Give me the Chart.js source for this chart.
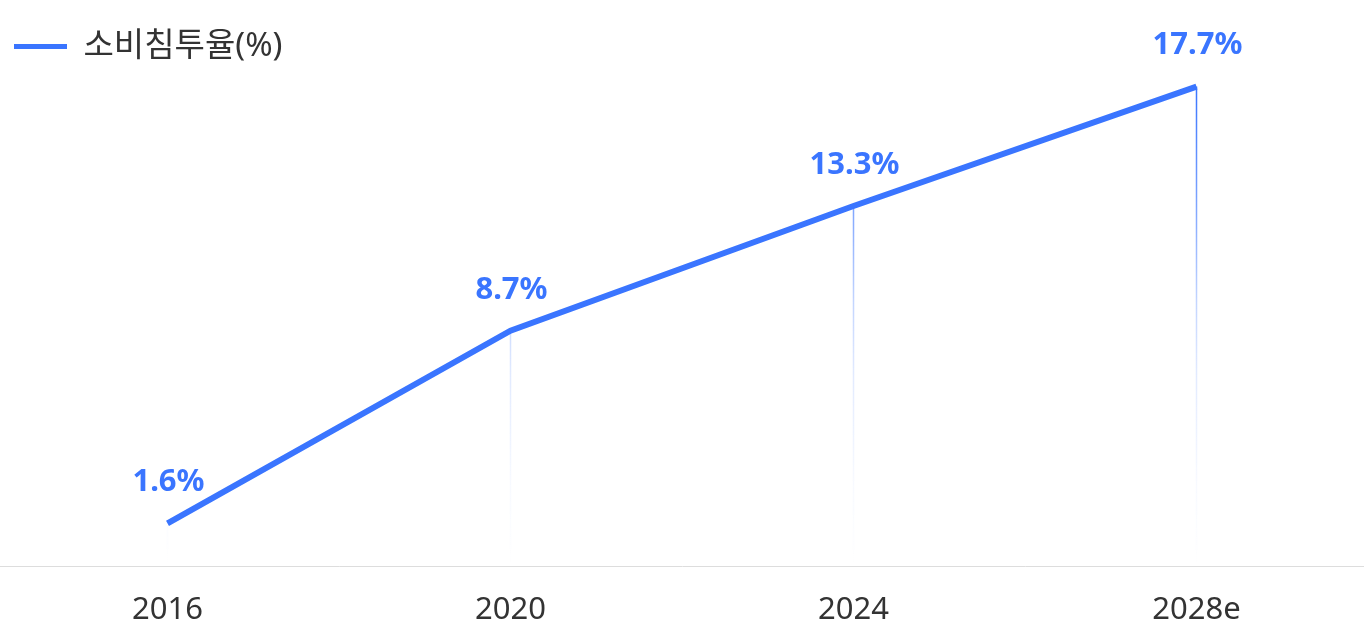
<!DOCTYPE html>
<html>
<head>
<meta charset="utf-8">
<script src="https://cdn.jsdelivr.net/npm/chart.js@4"></script>
<style>
  html, body { margin: 0; padding: 0; background: #fff; }
  #wrap { width: 1364px; height: 641px; overflow: hidden; position: relative; }
  #mainPlot { position: absolute; left: -4px; top: 0; }
</style>
</head>
<body>
<div id="wrap"><canvas id="mainPlot" width="1372" height="641"></canvas></div>
<script>
// chart data
const years = ["2016", "2020", "2024", "2028e"];
const penetration = [1.6, 8.7, 13.3, 17.7];
const seriesName = "소비침투율(%)";

const blue = "rgb(58, 117, 255)";
const fontFamily = "'Noto Sans', 'Noto Sans CJK KR', sans-serif";

// thin fading lines from each point down to the axis
const dropLines = {
  id: "dropLines",
  beforeDatasetsDraw(chart) {
    const ctx = chart.ctx;
    const yScale = chart.scales.y;
    const top = yScale.getPixelForValue(17.7);
    const bottom = yScale.getPixelForValue(0);
    const gradient = ctx.createLinearGradient(0, top, 0, bottom);
    gradient.addColorStop(0, "rgba(58, 117, 255, 1)");
    gradient.addColorStop(0.25, "rgba(58, 117, 255, 0.65)");
    gradient.addColorStop(0.45, "rgba(58, 117, 255, 0.3)");
    gradient.addColorStop(0.6, "rgba(58, 117, 255, 0.15)");
    gradient.addColorStop(0.82, "rgba(58, 117, 255, 0.04)");
    gradient.addColorStop(1, "rgba(58, 117, 255, 0)");
    ctx.save();
    ctx.strokeStyle = gradient;
    ctx.lineWidth = 1.5;
    chart.getDatasetMeta(0).data.forEach((pt) => {
      ctx.beginPath();
      ctx.moveTo(pt.x, pt.y);
      ctx.lineTo(pt.x, bottom);
      ctx.stroke();
    });
    ctx.restore();
  },
};

// value labels above the points
const valueLabels = {
  id: "valueLabels",
  afterDatasetsDraw(chart) {
    const ctx = chart.ctx;
    ctx.save();
    ctx.fillStyle = blue;
    ctx.font = "bold 31px " + fontFamily;
    ctx.textAlign = "center";
    ctx.textBaseline = "middle";
    chart.getDatasetMeta(0).data.forEach((pt, i) => {
      ctx.fillText(penetration[i] + "%", pt.x + 1, pt.y - 41);
    });
    ctx.restore();
  },
};

new Chart(document.getElementById("mainPlot"), {
  type: "line",
  data: {
    labels: years,
    datasets: [
      {
        label: seriesName,
        data: penetration,
        borderColor: blue,
        backgroundColor: blue,
        borderWidth: 6,
        tension: 0,
        pointRadius: 0,
        fill: false,
      },
    ],
  },
  options: {
    responsive: false,
    animation: false,
    layout: {
      padding: { left: 0, right: 0, top: 12, bottom: -13 },
    },
    scales: {
      x: {
        offset: true,
        border: { color: "#dddddd", width: 1 },
        grid: { display: false, drawTicks: false },
        ticks: {
          color: "#333333",
          padding: 25,
          font: { size: 31, family: fontFamily },
        },
      },
      y: {
        display: false,
        min: 0,
        max: 18.2,
      },
    },
    plugins: {
      legend: {
        position: "top",
        align: "start",
        labels: {
          boxWidth: 53,
          boxHeight: 5,
          padding: 18,
          color: "#333333",
          font: { size: 33, family: fontFamily },
          generateLabels(chart) {
            return Chart.defaults.plugins.legend.labels.generateLabels(chart)
              .map((l) => ({ ...l, lineWidth: 0 }));
          },
        },
      },
      tooltip: { enabled: false },
    },
  },
  plugins: [dropLines, valueLabels],
});
</script>
</body>
</html>
